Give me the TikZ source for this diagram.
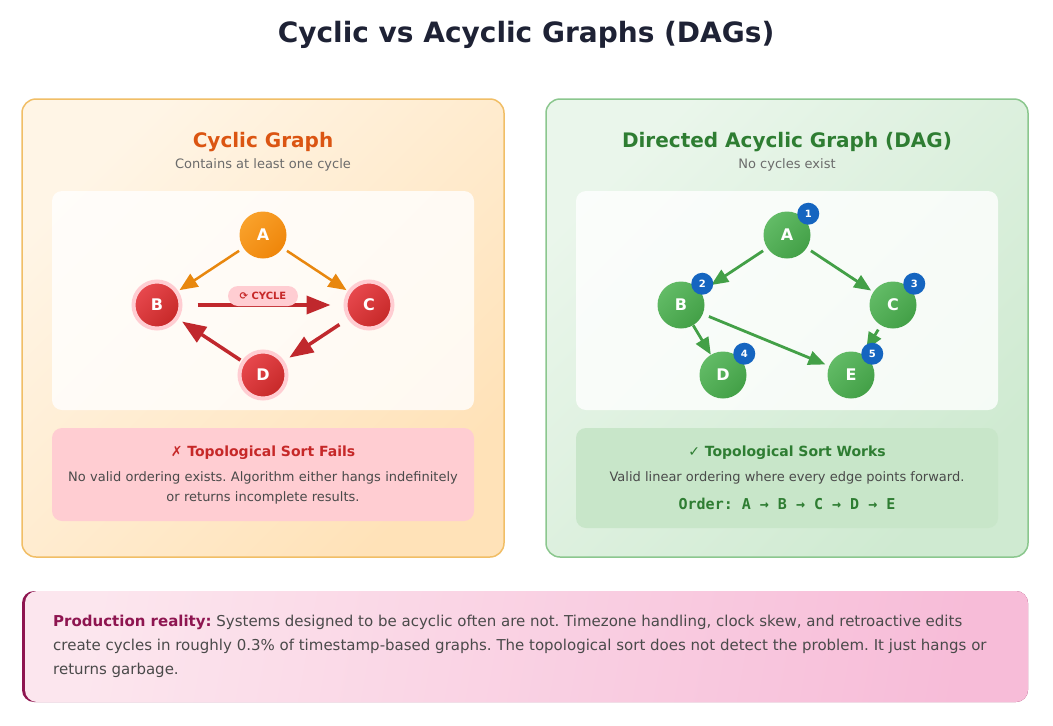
\documentclass[tikz,border=0pt]{standalone}
\usepackage{fontspec}
\setmainfont{DejaVu Sans}
\setmonofont{DejaVu Sans Mono}
\usetikzlibrary{arrows.meta}
\definecolor{Ink}{HTML}{1E2235}
\definecolor{Body}{HTML}{4A4A4A}
\definecolor{Muted}{HTML}{6B6B6B}
\definecolor{PeachA}{HTML}{FFF5E6}
\definecolor{PeachB}{HTML}{FFE2B8}
\definecolor{PeachLine}{HTML}{F1BE66}
\definecolor{Rust}{HTML}{DB5512}
\definecolor{OrangeA}{HTML}{F9A12B}
\definecolor{OrangeB}{HTML}{EF860A}
\definecolor{OrangeEdge}{HTML}{E8870E}
\definecolor{RedA}{HTML}{E8494E}
\definecolor{RedB}{HTML}{C62828}
\definecolor{RedEdge}{HTML}{C0282D}
\definecolor{Halo}{HTML}{FFCDD2}
\definecolor{FailBg}{HTML}{FFCDD2}
\definecolor{FailInk}{HTML}{C62828}
\definecolor{MintA}{HTML}{EAF6EB}
\definecolor{MintB}{HTML}{CFEAD1}
\definecolor{MintLine}{HTML}{8BC78E}
\definecolor{Forest}{HTML}{2E7D32}
\definecolor{LeafA}{HTML}{62BB66}
\definecolor{LeafB}{HTML}{43A047}
\definecolor{LeafEdge}{HTML}{43A047}
\definecolor{WorkBg}{HTML}{C8E6C9}
\definecolor{Badge}{HTML}{1565C0}
\definecolor{RoseA}{HTML}{FCE6EE}
\definecolor{RoseB}{HTML}{F7BCD8}
\definecolor{Plum}{HTML}{8E1550}
\newcommand{\px}[2]{\fontsize{#1}{#2}\selectfont}
\frenchspacing
\tikzset{
  panel/.style={rounded corners=14pt,line width=1.5pt,shading angle=45},
  card/.style={rounded corners=10pt},
  vertex/.style={
    circle,minimum size=47pt,inner sep=0pt,
    font=\px{16}{19}\bfseries,text=white,shading angle=45
  },
  warm/.style={vertex,top color=OrangeA,bottom color=OrangeB,shading angle=45},
  hot/.style={vertex,top color=RedA,bottom color=RedB,shading angle=45,
    draw=Halo,line width=4pt},
  leaf/.style={vertex,top color=LeafA,bottom color=LeafB,shading angle=45},
  badge/.style={
    circle,fill=Badge,minimum size=22pt,inner sep=0pt,
    text=white,font=\px{10}{12}\bfseries
  },
  oedge/.style={-{Triangle[length=18pt,width=15pt]},line width=2.5pt,draw=OrangeEdge},
  redge/.style={-{Triangle[length=24pt,width=18pt]},line width=3.5pt,draw=RedEdge},
  gedge/.style={-{Triangle[length=17pt,width=14pt]},line width=2.8pt,draw=LeafEdge}
}

\begin{document}
\begin{tikzpicture}[x=1pt,y=-1pt]
  \useasboundingbox[fill=white] (0,0) rectangle (1053,726);

  \node[font=\px{28}{32}\bfseries,text=Ink] (title) at (526,35) {Cyclic vs Acyclic Graphs (DAGs)};

  % cyclic side
  \path[panel,draw=PeachLine,top color=PeachA,bottom color=PeachB,shading angle=45]
    (22,99) rectangle (504,557);
  \node[font=\px{20}{24}\bfseries,text=Rust] (ctitle) at (263,142) {Cyclic Graph};
  \node[font=\px{13}{16},text=Muted] (csub) at (263,165) {Contains at least one cycle};
  \path[card,fill=white,fill opacity=0.8] (52,191) rectangle (474,410);

  \node[warm] (cA) at (263,235) {A};
  \node[hot] (cB) at (157,305) {B};
  \node[hot] (cC) at (369,305) {C};
  \node[hot] (cD) at (263,375) {D};

  \draw[oedge,shorten <=5pt,shorten >=1.5pt] (cA) -- (cB);
  \draw[oedge,shorten <=5pt,shorten >=1.5pt] (cA) -- (cC);
  \draw[redge,shorten <=15pt,shorten >=13pt] (cB) -- (cC);
  \draw[redge,shorten <=10pt,shorten >=6pt] (cC) -- (cD);
  \draw[redge,shorten <=1.5pt,shorten >=4.5pt] (cD) -- (cB);
  \node[rounded corners=10pt,fill=Halo,text=FailInk,font=\px{10}{12}\bfseries,
    minimum width=70pt,minimum height=20pt,inner sep=0pt] (cycle) at (263,296) {⟳ CYCLE};

  \path[card,fill=FailBg] (52,428) rectangle (474,521);
  \node[font=\px{14}{17}\bfseries,text=FailInk] (fail) at (263,453) {✗ Topological Sort Fails};
  \node[font=\px{13}{20},text=Body,align=center,text width=420pt] (failtxt) at (263,488) {%
    No valid ordering exists. Algorithm either hangs indefinitely\\
    or returns incomplete results.};

  % acyclic side
  \path[panel,draw=MintLine,top color=MintA,bottom color=MintB,shading angle=45]
    (546,99) rectangle (1028,557);
  \node[font=\px{20}{24}\bfseries,text=Forest] (dtitle) at (787,142) {Directed Acyclic Graph (DAG)};
  \node[font=\px{13}{16},text=Muted] (dsub) at (787,165) {No cycles exist};
  \path[card,fill=white,fill opacity=0.8] (576,191) rectangle (998,410);

  \node[leaf] (dA) at (787,235) {A};
  \node[leaf] (dB) at (681,305) {B};
  \node[leaf] (dC) at (893,305) {C};
  \node[leaf] (dD) at (723,375) {D};
  \node[leaf] (dE) at (851,375) {E};

  \draw[gedge,shorten <=5pt,shorten >=12.5pt] (dA) -- (dB);
  \draw[gedge,shorten <=5pt,shorten >=2.5pt] (dA) -- (dC);
  \draw[gedge,shorten <=0pt,shorten >=0pt] (dB) -- (dD);
  \draw[gedge,shorten <=6.5pt,shorten >=4pt] (dB) -- (dE);
  \draw[gedge,shorten <=5pt,shorten >=6pt] (dC) -- (dE);

  \node[badge] (nA) at ([shift={(4.5,-4.5)}]dA.north east) {1};
  \node[badge] (nB) at ([shift={(4.5,-4.5)}]dB.north east) {2};
  \node[badge] (nC) at ([shift={(4.5,-4.5)}]dC.north east) {3};
  \node[badge] (nD) at ([shift={(4.5,-4.5)}]dD.north east) {4};
  \node[badge] (nE) at ([shift={(4.5,-4.5)}]dE.north east) {5};

  \path[card,fill=WorkBg] (576,428) rectangle (998,528);
  \node[font=\px{14}{17}\bfseries,text=Forest] (works) at (787,453) {✓ Topological Sort Works};
  \node[font=\px{13}{16},text=Body] (workstxt) at (787,478) {Valid linear ordering where every edge points forward.};
  \node[font=\ttfamily\px{15}{18}\bfseries,text=Forest] (order) at (787,504) {Order: A → B → C → D → E};

  % production note
  \fill[Plum,rounded corners=12pt] (22,591) rectangle (1028,702);
  \path[rounded corners=12pt,left color=RoseA,right color=RoseB,shading angle=80]
    (25,591) rectangle (1028,702);
  \node[anchor=north west,align=left,text=Body,inner sep=0pt,font=\px{15}{24}] (note) at (53,615) {%
    \textcolor{Plum}{\bfseries Production reality:} Systems designed to be acyclic often are not. Timezone handling, clock skew, and retroactive edits\\
    create cycles in roughly 0.3\% of timestamp-based graphs. The topological sort does not detect the problem. It just hangs or\\
    returns garbage.};
\end{tikzpicture}
\end{document}
